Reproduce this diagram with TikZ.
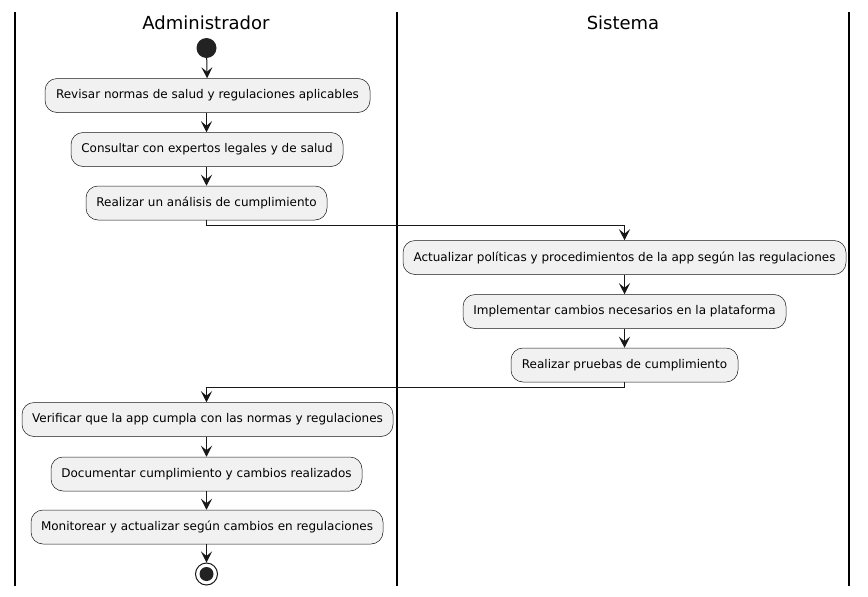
\documentclass[tikz,border=0pt]{standalone}
\usepackage{fontspec}
\setmainfont{DejaVu Sans}
\usetikzlibrary{arrows.meta}
\definecolor{actfill}{HTML}{F1F1F1}
\definecolor{linec}{HTML}{181818}
\definecolor{dotc}{HTML}{222222}
\begin{document}
\begin{tikzpicture}[x=1pt,y=-1pt,
  act/.style={draw=linec, line width=0.5pt, fill=actfill, rounded corners=12pt,
    minimum height=34pt, inner xsep=2pt, inner ysep=0pt,
    font=\fontsize{12}{14}\selectfont, text=black},
  flow/.style={draw=linec, line width=1pt, -{Stealth[length=11pt,width=11pt,inset=4.5pt]}},
  lane/.style={line width=1.5pt, draw=black},
  lanetitle/.style={font=\fontsize{18}{21}\selectfont, anchor=base, inner sep=0pt}]
\useasboundingbox[fill=white] (0,0) rectangle (868,597);
% lanes
\draw[lane] (15,12) -- (15,586);
\draw[lane] (397,12) -- (397,586);
\draw[lane] (849,12) -- (849,586);
\node[lanetitle] (t1) at (206,29) {Administrador};
\node[lanetitle] (t2) at (623,29) {Sistema};
% nodes
\node[circle, fill=dotc, minimum size=20pt, inner sep=0pt] (start) at (206.5,48) {};
\node[act, minimum width=325pt] (a1) at (207.5,95.5) {Revisar normas de salud y regulaciones aplicables};
\node[act, minimum width=272pt] (a2) at (207,149.5) {Consultar con expertos legales y de salud};
\node[act, minimum width=241pt] (a3) at (206.5,203) {Realizar un análisis de cumplimiento};
\node[act, minimum width=443pt] (a4) at (624.5,257.5) {Actualizar políticas y procedimientos de la app según las regulaciones};
\node[act, minimum width=323pt] (a5) at (624.5,311.5) {Implementar cambios necesarios en la plataforma};
\node[act, minimum width=227pt] (a6) at (624.5,365) {Realizar pruebas de cumplimiento};
\node[act, minimum width=371pt] (a7) at (207.5,419.5) {Verificar que la app cumpla con las normas y regulaciones};
\node[act, minimum width=311pt] (a8) at (206.5,474) {Documentar cumplimiento y cambios realizados};
\node[act, minimum width=352pt] (a9) at (207,527) {Monitorear y actualizar según cambios en regulaciones};
\node[circle, draw=linec, line width=1pt, fill=white, minimum size=22pt, inner sep=0pt] (stop) at (206.5,574) {};
\node[circle, fill=dotc, minimum size=14pt, inner sep=0pt] (stopdot) at (stop.center) {};
% connectors
\draw[flow] (start) -- (a1);
\draw[flow] (a1.south -| start) -- (a2.north -| start);
\draw[flow] (a2.south -| start) -- (a3.north -| start);
\draw[flow] (a3.south -| start) -- ([yshift=-5pt]a3.south -| start) -| (a4.north);
\draw[flow] (a4) -- (a5);
\draw[flow] (a5) -- (a6);
\draw[flow] (a6.south) -- ([yshift=-5pt]a6.south) -| (a7.north -| start);
\draw[flow] (a7.south -| start) -- (a8.north -| start);
\draw[flow] (a8.south -| start) -- (a9.north -| start);
\draw[flow] (a9.south -| start) -- (stop);
\end{tikzpicture}
\end{document}
